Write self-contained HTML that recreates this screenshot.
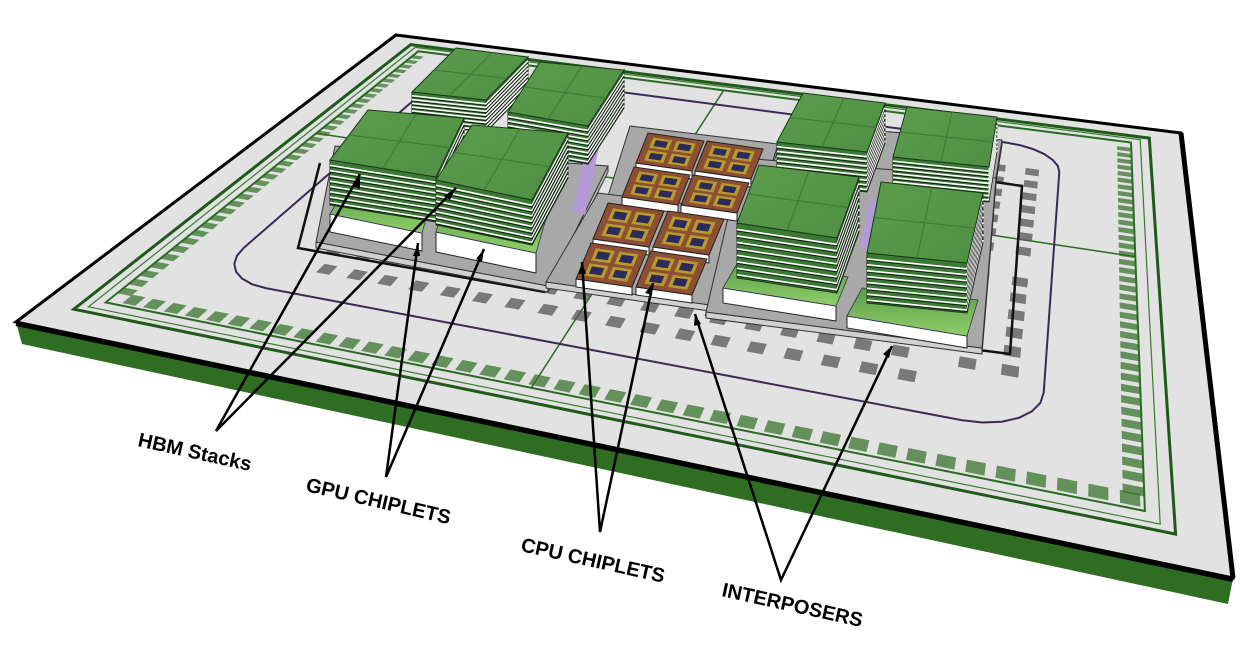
<!DOCTYPE html>
<html><head><meta charset="utf-8"><style>
html,body{margin:0;padding:0;background:#fff;width:1254px;height:650px;overflow:hidden}
svg{display:block}
text{font-family:"Liberation Sans",sans-serif;font-weight:bold;font-size:20px;fill:#000}
</style></head><body>
<svg id="s" width="1254" height="650" viewBox="0 0 1254 650" xmlns="http://www.w3.org/2000/svg">
<defs>
<linearGradient id="die" x1="0" y1="0" x2="0" y2="1"><stop offset="0" stop-color="#5c9a48"/><stop offset="1" stop-color="#8fd06a"/></linearGradient>
<linearGradient id="top" x1="0" y1="0" x2="1" y2="1"><stop offset="0" stop-color="#5c9c4c"/><stop offset="1" stop-color="#4f8f44"/></linearGradient>
</defs>
<polygon points="16,322 1233,578 1228,604 22,344" fill="#2f6e22"/>
<polygon points="396,35 1181,133 1233,578 16,322" fill="#e2e2e2" stroke="#000" stroke-width="3"/>
<line x1="16" y1="324" x2="1233" y2="580" stroke="#000" stroke-width="4"/>
<line x1="1181" y1="133" x2="1233" y2="578" stroke="#000" stroke-width="5"/>
<g id="det"></g>
<g id="parts"></g>
<g stroke="#000" stroke-width="2.5" fill="none">
<polyline points="360,174 216,431 456,188"/>
<polyline points="418,243 386,477 484,249"/>
<polyline points="582,262 600,532 653,283"/>
<polyline points="695,314 781,580 892,346"/>
</g>
<g fill="#000">
<polygon points="360,174 352,186 360,189"/>
<polygon points="456,188 444,196 450,200"/>
<polygon points="418,243 413,256 420,256"/>
<polygon points="484,249 476,259 482,262"/>
<polygon points="582,262 579,274 586,274"/>
<polygon points="653,283 645,293 652,295"/>
<polygon points="695,314 694,326 701,324"/>
<polygon points="892,346 883,354 889,358"/>
</g>
<text transform="translate(137,446) rotate(12.5)">HBM Stacks</text>
<text transform="translate(305,491) rotate(13)">GPU CHIPLETS</text>
<text transform="translate(520,551) rotate(12.5)">CPU CHIPLETS</text>
<text transform="translate(721,596) rotate(12.5)">INTERPOSERS</text>
</svg>
<script>
(function(){
var NS="http://www.w3.org/2000/svg";
function el(p,t,a){var e=document.createElementNS(NS,t);for(var k in a)e.setAttribute(k,a[k]);p.appendChild(e);return e;}
var Q=[[396,35],[1181,133],[1233,578],[16,322]];
var x0=Q[0][0],y0=Q[0][1],x1=Q[1][0],y1=Q[1][1],x2=Q[2][0],y2=Q[2][1],x3=Q[3][0],y3=Q[3][1];
var dx1=x1-x2,dx2=x3-x2,dx3=x0-x1+x2-x3,dy1=y1-y2,dy2=y3-y2,dy3=y0-y1+y2-y3;
var den=dx1*dy2-dx2*dy1;
var g=(dx3*dy2-dx2*dy3)/den,h=(dx1*dy3-dx3*dy1)/den;
var a=x1-x0+g*x1,b=x3-x0+h*x3,c=x0,d=y1-y0+g*y1,e=y3-y0+h*y3,f=y0;
function P(u,v){var w=g*u+h*v+1;return [(a*u+b*v+c)/w,(d*u+e*v+f)/w];}
function pts(arr){return arr.map(function(q){var p=P(q[0],q[1]);return p[0].toFixed(1)+","+p[1].toFixed(1);}).join(" ");}
var D=document.getElementById("det");
function rect(u0,v0,u1,v1,st,sw,fill){el(D,"polygon",{points:pts([[u0,v0],[u1,v0],[u1,v1],[u0,v1]]),fill:fill||"none",stroke:st,"stroke-width":sw});}
rect(0.035,0.035,0.965,0.955,"#1f5a1a",3);
rect(0.055,0.06,0.945,0.93,"#2a6a22",2);
rect(0.045,0.045,0.955,0.945,"#3a7a30",1.2);
el(D,"polyline",{points:pts([[0.47,0.06],[0.47,0.93]]),stroke:"#2a6a22","stroke-width":1.5,fill:"none"});
el(D,"polyline",{points:pts([[0.055,0.42],[0.945,0.42]]),stroke:"#2a6a22","stroke-width":1.5,fill:"none"});
var r=[];var u0=0.12,v0=0.12,u1=0.87,v1=0.84,rr=0.06;
function arc(cu,cv,a0){for(var i=0;i<=6;i++){var t=(a0+i*15)*Math.PI/180;r.push([cu+rr*Math.cos(t),cv+rr*Math.sin(t)*1.3]);}}
r.push([u0+rr,v0]);r.push([u1-rr,v0]);arc(u1-rr,v0+rr*1.3,270);r.push([u1,v1-rr*1.3]);arc(u1-rr,v1-rr*1.3,0);arc(u0+rr,v1-rr*1.3,90);arc(u0+rr,v0+rr*1.3,180);
el(D,"polygon",{points:pts(r),stroke:"#3a2a55","stroke-width":2,fill:"none"});
function blob(u,v){var w=0.014,hh=0.022;el(D,"polygon",{points:pts([[u,v],[u+w,v],[u+w,v+hh],[u,v+hh]]),fill:"#555","opacity":0.75});}
for(var i=0;i<18;i++){blob(0.2+i*0.032,0.72);blob(0.21+i*0.032,0.765);}
for(var i=0;i<7;i++){for(var j=0;j<2;j++){blob(0.14+j*0.03,0.3+i*0.045);}}
for(var i=0;i<7;i++){blob(0.8,0.2+i*0.04);blob(0.835,0.2+i*0.04);}
for(var i=0;i<6;i++){blob(0.8,0.52+i*0.04);blob(0.835,0.52+i*0.04);}
for(var i=0;i<40;i++){var u=0.07+i*0.022;el(D,"polygon",{points:pts([[u,0.905],[u+0.014,0.905],[u+0.014,0.925],[u,0.925]]),fill:"#2f6e22",opacity:0.7});}
for(var i=0;i<38;i++){var v=0.08+i*0.022;el(D,"polygon",{points:pts([[0.93,v],[0.945,v],[0.945,v+0.014],[0.93,v+0.014]]),fill:"#2f6e22",opacity:0.7});el(D,"polygon",{points:pts([[0.055,v],[0.07,v],[0.07,v+0.014],[0.055,v+0.014]]),fill:"#2f6e22",opacity:0.7});}

var G=document.getElementById("parts");
function poly(p,fill,st,sw){return el(G,"polygon",{points:p.map(function(q){return q.join(",");}).join(" "),fill:fill,stroke:st||"none","stroke-width":sw||1});}
function add(p,q){return [p[0]+q[0],p[1]+q[1]];}
function plate(P0,P1,P2,P3,t){
 poly([P3,P2,add(P2,[0,t]),add(P3,[0,t])],"#d0d0d0","#333",1);
 poly([P1,P2,add(P2,[0,t]),add(P1,[0,t])],"#bbb","#333",1);
 poly([P0,P1,P2,P3],"#a8a8a8","#333",1);
}
function die(P0,P1,P2,P3,w){
 poly([P3,P2,add(P2,[0,w]),add(P3,[0,w])],"#fff","#222",1);
 poly([P0,P1,P2,P3],"url(#die)","#335",0.8);
}
function stack(P0,P1,P2,P3,H){
 var dn=[0,H];
 poly([P3,P2,add(P2,dn),add(P3,dn)],"#3a7a34","#1a3a18",1);
 poly([P1,P2,add(P2,dn),add(P1,dn)],"#2e6428","#1a3a18",1);
 var n=8;
 for(var i=1;i<=n;i++){var y=H*i/(n+0.5);
  el(G,"polyline",{points:[add(P3,[0,y]),add(P2,[0,y]),add(P1,[0,y])].map(function(q){return q.join(",");}).join(" "),stroke:"#fff","stroke-width":1.6,fill:"none"});
  el(G,"polyline",{points:[add(P3,[0,y+1.6]),add(P2,[0,y+1.6]),add(P1,[0,y+1.6])].map(function(q){return q.join(",");}).join(" "),stroke:"#111","stroke-width":0.8,fill:"none"});
 }
 poly([P0,P1,P2,P3],"url(#top)","#1a3a18",1);
 function m(A,B){return [(A[0]+B[0])/2,(A[1]+B[1])/2];}
 el(G,"line",{x1:m(P0,P1)[0],y1:m(P0,P1)[1],x2:m(P3,P2)[0],y2:m(P3,P2)[1],stroke:"#3f7c38","stroke-width":1.2});
 el(G,"line",{x1:m(P0,P3)[0],y1:m(P0,P3)[1],x2:m(P1,P2)[0],y2:m(P1,P2)[1],stroke:"#3f7c38","stroke-width":1.2});
}
function cpu(O,u,v){
 var A=O,B=add(O,u),C=add(B,v),Dd=add(O,v);
 poly([Dd,C,add(C,[0,8]),add(Dd,[0,8])],"#fff","#222",1);
 poly([A,B,C,Dd],"#8c4f34","#222",1);
 function L(s,t){return [O[0]+u[0]*s+v[0]*t,O[1]+u[1]*s+v[1]*t];}
 for(var i=0;i<2;i++)for(var j=0;j<2;j++){
  var s0=0.12+i*0.42,t0=0.12+j*0.42;
  poly([L(s0,t0),L(s0+0.34,t0),L(s0+0.34,t0+0.34),L(s0,t0+0.34)],"#b89a2c","none");
  poly([L(s0+0.06,t0+0.07),L(s0+0.28,t0+0.07),L(s0+0.28,t0+0.27),L(s0+0.06,t0+0.27)],"#2c2a5a","none");
 }
}
el(G,"polyline",{points:"320,163 298,248 545,292",stroke:"#111","stroke-width":2.5,fill:"none"});
el(G,"polyline",{points:"995,182 1022,186 1010,354 705,315",stroke:"#111","stroke-width":2.5,fill:"none"});
plate([335,146],[608,166],[548,286],[316,242],6);
plate([630,126],[778,144],[756,216],[608,196],5);
plate([598,193],[742,211],[710,305],[546,282],6);
plate([795,125],[1002,140],[994,190],[775,175],5);
plate([742,158],[996,178],[982,348],[706,312],6);
die([345,188],[432,198],[422,233],[330,214],18);
die([445,200],[548,212],[536,253],[436,232],20);
die([738,262],[848,277],[836,306],[723,288],15);
die([862,288],[978,300],[967,336],[847,316],12);
poly([[590,130],[602,132],[585,215],[573,212]],"#b49ad8");
poly([[870,200],[880,202],[870,250],[860,248]],"#b49ad8");
stack([456,48],[528,57],[486,100],[412,92],32);
stack([540,62],[624,70],[588,126],[508,112],38);
stack([803,93],[885,103],[867,152],[777,142],40);
stack([907,107],[997,117],[989,167],[893,157],35);
var u=[56,8],v=[-12,30];
cpu([648,133],u,v);cpu([707,141],u,v);cpu([634,167],u,v);cpu([693,175],u,v);
var v2=[-15,36];
cpu([608,203],u,v2);cpu([668,211],u,v2);cpu([591,243],u,v2);cpu([651,251],u,v2);
stack([368,110],[464,118],[436,177],[330,160],45);
stack([472,125],[568,133],[532,200],[436,180],45);
stack([759,165],[859,177],[837,238],[737,223],55);
stack([881,182],[983,193],[967,263],[867,253],50);
})();
</script>
</body></html>
